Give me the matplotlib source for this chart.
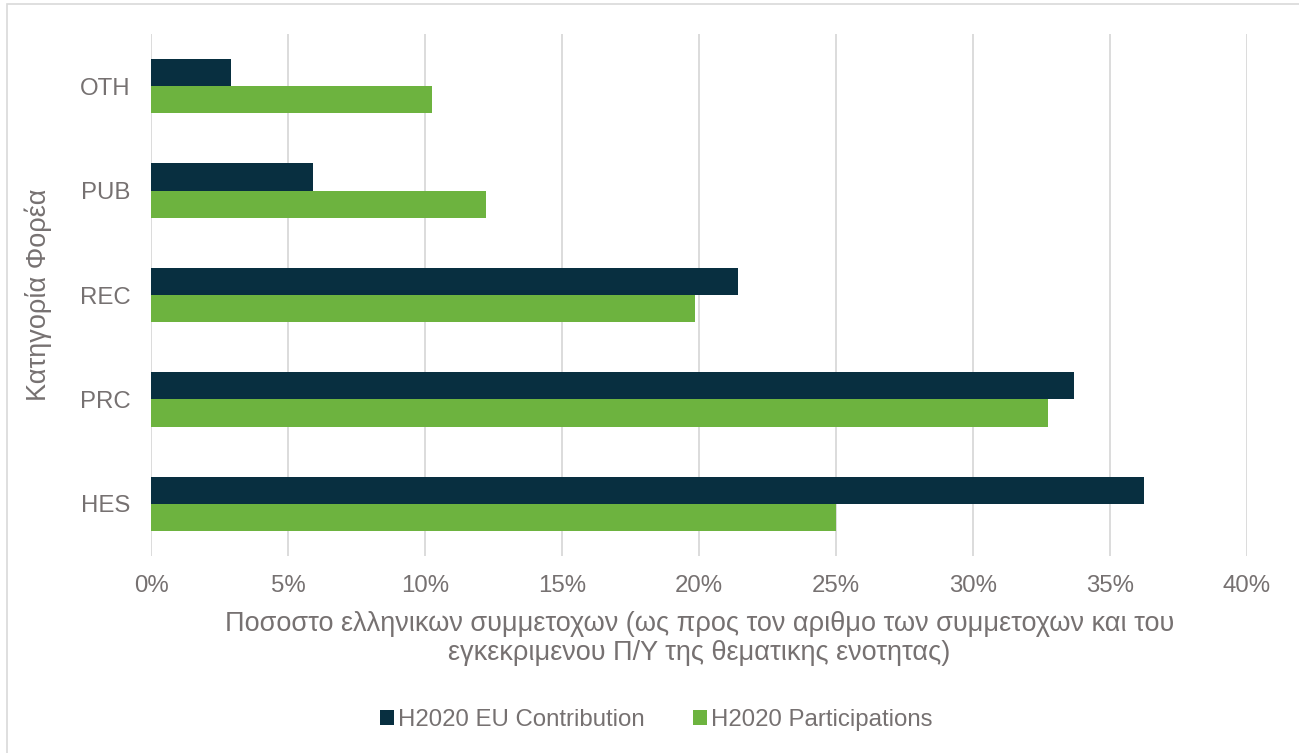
import matplotlib.pyplot as plt
import numpy as np
from matplotlib.patches import Rectangle
from matplotlib.ticker import FuncFormatter

plt.rcParams['font.family'] = ['Liberation Sans', 'DejaVu Sans']

# Δεδομένα
kategories = ['HES', 'PRC', 'REC', 'PUB', 'OTH']
eu_contribution = [36.25, 33.7, 21.4, 5.9, 2.9]
participations = [25.0, 32.75, 19.85, 12.2, 10.25]

xrama_skouro = '#082F40'
xrama_prasino = '#6DB33F'
keimeno = '#767171'

fig = plt.figure(figsize=(12.99, 7.53), dpi=100)
ax = fig.add_axes([0.1166, 0.2616, 0.8434, 0.6932])

# πλαίσιο γύρω από το διάγραμμα
fig.patches.append(Rectangle((0.0054, -0.01), 1.0, 1.0047, transform=fig.transFigure,
                             fill=False, edgecolor='#D9D9D9', linewidth=1.2))

y = np.arange(len(kategories))
h = 0.26
ax.barh(y + h / 2, eu_contribution, height=h, color=xrama_skouro, label='H2020 EU Contribution', zorder=3)
ax.barh(y - h / 2, participations, height=h, color=xrama_prasino, label='H2020 Participations', zorder=3)

ax.set_xlim(0, 40)
ax.set_ylim(-0.5, 4.5)
ax.set_xticks(np.arange(0, 41, 5))
ax.xaxis.set_major_formatter(FuncFormatter(lambda v, p: '%d%%' % v))
ax.set_yticks(y)
ax.set_yticklabels(kategories)
ax.grid(axis='x', color='#D9D9D9', linewidth=1.3, zorder=0)
for s in ax.spines.values():
    s.set_visible(False)
ax.tick_params(axis='both', length=0, labelsize=17.3, labelcolor=keimeno)
ax.tick_params(axis='x', pad=14)
ax.tick_params(axis='y', pad=15)

ax.set_xlabel('Ποσοστο ελληνικων συμμετοχων (ως προς τον αριθμο των συμμετοχων και του\n'
              'εγκεκριμενου Π/Υ της θεματικης ενοτητας)', fontsize=19.5, color=keimeno,
              labelpad=10, linespacing=1.15)
ax.set_ylabel('Κατηγορία Φορέα', fontsize=19.5, color=keimeno, labelpad=20)

fig.legend(loc='center', bbox_to_anchor=(0.505, 0.044), ncol=2, frameon=False,
           fontsize=17.3, labelcolor=keimeno, handlelength=0.6, handleheight=0.6,
           handletextpad=0.15, columnspacing=2.0)

fig.savefig('out.png', dpi=100)
